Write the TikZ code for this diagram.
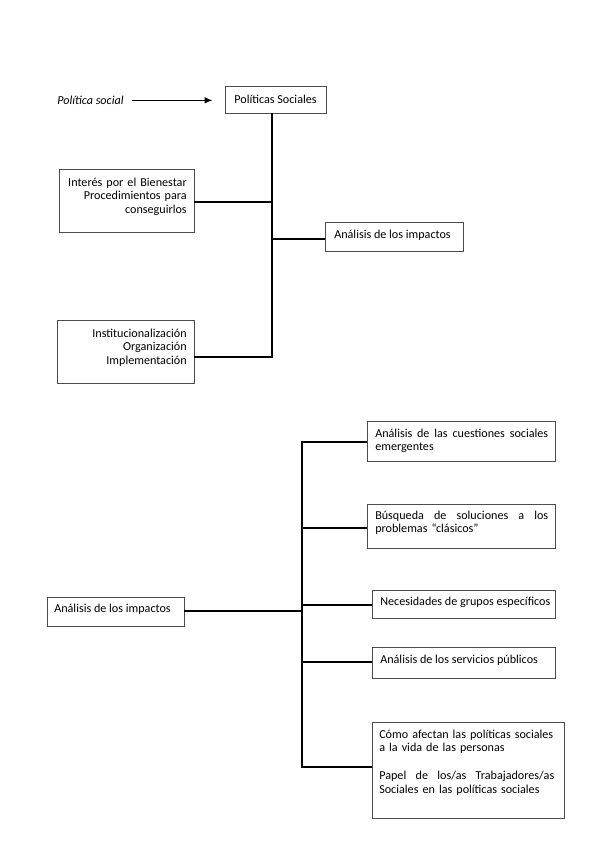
\documentclass[tikz,border=0pt]{standalone}
\usepackage{fontspec}
\setmainfont{Carlito}
\usetikzlibrary{fit,arrows.meta}
\begin{document}
\begin{tikzpicture}[x=0.75pt,y=-0.75pt,
  box/.style={draw=black!70,line width=0.6pt,inner sep=0pt,fit={#1}},
  txt/.style={inner sep=0pt,font=\fontsize{9.1}{10}\selectfont},
  conn/.style={draw=black,line width=1.2pt},
  arr/.style={draw=black,line width=1.1pt,-{Latex[length=6pt,width=5pt]}}]
\useasboundingbox (0,0) rectangle (599,848);
% ---------- top part ----------
\node[txt,anchor=base west,font=\fontsize{9.1}{10}\selectfont\itshape] (pol) at (57,104.5) {Política social};
\node[box={(225,86) (326,113)}] (ps) {};
\node[txt] (pst) at (ps.center) {Políticas Sociales};
\draw[arr,shorten <=6pt,shorten >=9pt] (pol.east) -- (pol.east -| ps.west);

\node[box={(59,169) (194,232)}] (ib) {};
\node[txt,anchor=base east,text width=100pt,align=right] (ibt) at (187,186.5)
  {Interés por el Bienestar\\Procedimientos para\\conseguirlos};

\node[box={(57,320) (194,383)}] (ii) {};
\node[txt,anchor=base east,text width=100pt,align=right] (iit) at (187,337.5)
  {Institucionalización\\Organización\\Implementación};

\node[box={(325,222) (463,251)}] (ai1) {};
\node[txt,anchor=base west] (ai1t) at (334,238.5) {Análisis de los impactos};

\coordinate (t1) at (272,357);
\coordinate (j1) at (272,202);
\coordinate (j2) at (272,239);
\draw[conn] (ps.south -| t1) -- (t1) -- (t1 -| ii.east);
\draw[conn] (ib.east |- j1) -- (j1);
\draw[conn] (j2) -- (ai1.west |- j2);

% ---------- bottom part ----------
\node[box={(47,597) (184,626)}] (ai2) {};
\node[txt,anchor=base west] (ai2t) at (54,612.5) {Análisis de los impactos};

\node[box={(367,421) (555,461)}] (c1) {};
\node[txt,anchor=base west,text width=150pt,align=left] (c1t) at (375,437.5)
  {\makebox[129.75pt][l]{Análisis\hfill de\hfill las\hfill cuestiones\hfill sociales}\\emergentes};

\node[box={(367,504) (555,548)}] (c2) {};
\node[txt,anchor=base west,text width=150pt,align=left] (c2t) at (375,519.5)
  {\makebox[129.75pt][l]{Búsqueda\hfill de\hfill soluciones\hfill a\hfill los}\\problemas “clásicos”};

\node[box={(372,590) (555,618)}] (c3) {};
\node[txt,anchor=base west] (c3t) at (380,605.5) {Necesidades de grupos específicos};

\node[box={(372,647) (555,678)}] (c4) {};
\node[txt,anchor=base west] (c4t) at (380,663.5) {Análisis de los servicios públicos};

\node[box={(372,722) (564,818)}] (c5) {};
\node[txt,anchor=base west,text width=150pt,align=left] (c5t) at (379,738.5)
  {Cómo afectan las políticas sociales\\a la vida de las personas\\[11pt]
   \makebox[131.25pt][l]{Papel\hfill de\hfill los/as\hfill Trabajadores/as}\\Sociales en las políticas sociales};

\coordinate (k1) at (302,442);
\coordinate (k2) at (302,528);
\coordinate (k0) at (302,611);
\coordinate (k3) at (302,605);
\coordinate (k4) at (302,662);
\coordinate (k5) at (302,767);
\draw[conn] (c1.west |- k1) -- (k1) -- (k5) -- (c5.west |- k5);
\draw[conn] (k2) -- (c2.west |- k2);
\draw[conn] (k3) -- (c3.west |- k3);
\draw[conn] (k4) -- (c4.west |- k4);
\draw[conn] (ai2.east |- k0) -- (k0);
\end{tikzpicture}
\end{document}
